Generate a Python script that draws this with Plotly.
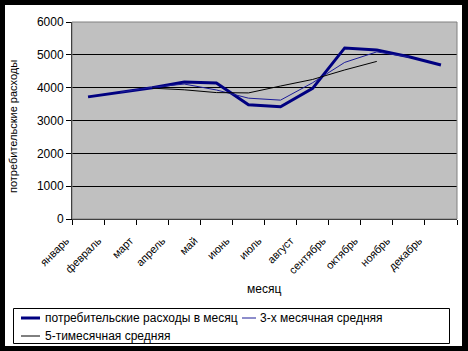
import plotly.graph_objects as go

months = ["январь", "февраль", "март", "апрель", "май", "июнь", "июль",
          "август", "сентябрь", "октябрь", "ноябрь", "декабрь"]
spending = [3720, 3855, 4000, 4170, 4140, 3480, 3420, 3980, 5210, 5150, 4940, 4690]
avg3_months = months[1:11]
avg3 = [3860, 4010, 4110, 3930, 3680, 3620, 4150, 4770, 5090, 4930]
avg5_months = months[2:10]
avg5 = [3985, 3935, 3850, 3840, 4050, 4250, 4540, 4800]

names = ["потребительские расходы в месяц", "3-х месячная средняя", "5-тимесячная средняя"]
colors = ["#000080", "#1c1c98", "#000000"]
widths = [3, 1, 1]

# plot area in pixels
L, R, T, B = 72.0, 457.0, 22.0, 219.0
def px(x):
    return (x - L) / (R - L)
def py(y):
    return (B - y) / (B - T)

fig = go.Figure()
for xs, ys, n, c, w in [(months, spending, names[0], colors[0], widths[0]),
                        (avg3_months, avg3, names[1], colors[1], widths[1]),
                        (avg5_months, avg5, names[2], colors[2], widths[2])]:
    fig.add_trace(go.Scatter(x=xs, y=ys, mode="lines", name=n,
                             line=dict(color=c, width=w), showlegend=False))

shapes = [
    dict(type="rect", xref="paper", yref="paper", x0=0, x1=1, y0=0, y1=1,
         line=dict(color="#808080", width=1), layer="above"),
    # legend box
    dict(type="rect", xref="paper", yref="paper",
         x0=px(13.5), x1=px(449.5), y0=py(308.5), y1=py(343.5),
         line=dict(color="black", width=1), fillcolor="white", layer="above"),
]
annotations = [
    dict(text="месяц", xref="paper", yref="paper", x=px(264), y=py(289),
         showarrow=False, font=dict(size=12), xanchor="center", yanchor="middle"),
    dict(text="потребительские расходы", xref="paper", yref="paper",
         x=px(13), y=py(127), textangle=-90, showarrow=False,
         font=dict(size=11), xanchor="center", yanchor="middle"),
]
# legend entries: (line x0, line x1, text x, row y)
leg_pos = [(21, 40, 43, 318), (242, 256, 258, 318), (21, 40, 43, 336)]
for (x0, x1, tx, ry), n, c, w in zip(leg_pos, names, colors, widths):
    shapes.append(dict(type="line", xref="paper", yref="paper",
                       x0=px(x0), x1=px(x1), y0=py(ry), y1=py(ry),
                       line=dict(color=c, width=w), layer="above"))
    annotations.append(dict(text=n, xref="paper", yref="paper", x=px(tx), y=py(ry),
                            showarrow=False, font=dict(size=12),
                            xanchor="left", yanchor="middle"))
# black frame
shapes.append(dict(type="rect", xref="paper", yref="paper",
                   x0=px(0), x1=px(467), y0=py(0), y1=py(351),
                   line=dict(color="black", width=10), layer="above"))

fig.update_layout(
    width=468, height=351,
    margin=dict(l=72, r=11, t=22, b=132, autoexpand=False),
    paper_bgcolor="white",
    plot_bgcolor="#c0c0c0",
    font=dict(family="Liberation Sans, Arial", size=11, color="black"),
    showlegend=False,
    xaxis=dict(type="category", categoryorder="array", categoryarray=months,
               range=[-0.5, 11.5], showgrid=False, tickson="boundaries",
               ticks="outside", ticklen=5, tickcolor="black", showline=True,
               linecolor="black", tickangle=-45, tickfont=dict(size=11),
               ticklabelshift=-22, ticklabelstandoff=10, automargin=False),
    yaxis=dict(range=[0, 6000], dtick=1000, showgrid=True, gridcolor="black",
               gridwidth=1, ticks="outside", ticklen=5, tickcolor="black",
               showline=True, linecolor="black", tickfont=dict(size=12),
               zeroline=False, automargin=False),
    shapes=shapes,
    annotations=annotations,
)

fig.write_html("out.html")
